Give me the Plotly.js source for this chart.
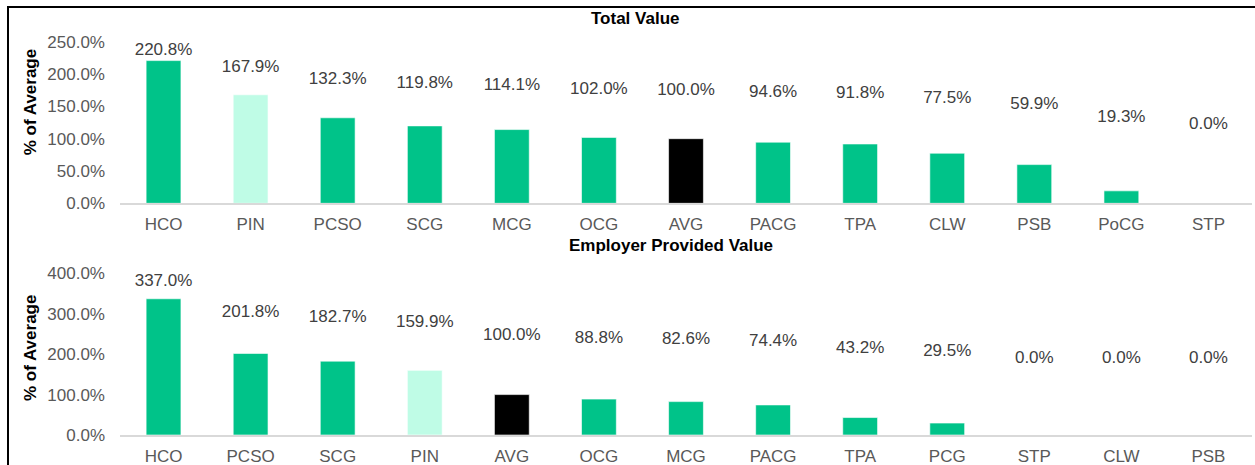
<!DOCTYPE html>
<html>
<head>
<meta charset="utf-8">
<script src="https://cdn.plot.ly/plotly-3.0.1.min.js"></script>
<style>
  html, body { margin: 0; padding: 0; background: #fff; }
  #wrap { position: relative; width: 1255px; height: 465px; }
  #chart { width: 1255px; height: 465px; }
  #frame { position: absolute; left: 7px; top: 6px; right: 0; bottom: 0;
           border-left: 2.5px solid #000; border-top: 2px solid #000; pointer-events: none; }
</style>
</head>
<body>
<div id="wrap"><div id="chart"></div><div id="frame"></div></div>
<script>
// ---- Data ----
const totalCategories = ["HCO","PIN","PCSO","SCG","MCG","OCG","AVG","PACG","TPA","CLW","PSB","PoCG","STP"];
const totalValues     = [220.8, 167.9, 132.3, 119.8, 114.1, 102.0, 100.0, 94.6, 91.8, 77.5, 59.9, 19.3, 0.0];

const employerCategories = ["HCO","PCSO","SCG","PIN","AVG","OCG","MCG","PACG","TPA","PCG","STP","CLW","PSB"];
const employerValues     = [337.0, 201.8, 182.7, 159.9, 100.0, 88.8, 82.6, 74.4, 43.2, 29.5, 0.0, 0.0, 0.0];

const titleTop = "Total Value";
const titleBottom = "Employer Provided Value";
const yTitle = "% of Average";

// ---- Styling ----
const GREEN = "#00C389", MINT = "#BFFCE6", BLACK = "#000000";
function colorFor(c) { return c === "AVG" ? BLACK : (c === "PIN" ? MINT : GREEN); }
const FONT = "Arial, 'Liberation Sans', sans-serif";
const tickFont = {family: FONT, size: 17, color: "#595959"};
const labelFont = {family: FONT, size: 17, color: "#404040"};

const fmt = v => v.toFixed(1) + "%";

const traces = [
  {type: "bar", x: totalCategories, y: totalValues, xaxis: "x", yaxis: "y",
   marker: {color: totalCategories.map(colorFor), line: {color: "rgba(255,255,255,0.6)", width: 1}},
   hoverinfo: "skip"},
  {type: "scatter", mode: "text", x: totalCategories, y: totalValues, xaxis: "x", yaxis: "y3",
   text: totalValues.map(fmt), textposition: "middle center", textfont: labelFont,
   cliponaxis: false, hoverinfo: "skip"},
  {type: "bar", x: employerCategories, y: employerValues, xaxis: "x2", yaxis: "y2",
   marker: {color: employerCategories.map(colorFor), line: {color: "rgba(255,255,255,0.6)", width: 1}},
   hoverinfo: "skip"},
  {type: "scatter", mode: "text", x: employerCategories, y: employerValues, xaxis: "x2", yaxis: "y4",
   text: employerValues.map(fmt), textposition: "middle center", textfont: labelFont,
   cliponaxis: false, hoverinfo: "skip"}
];

const xCommon = {type: "category", showgrid: false, zeroline: false, showline: true,
  linecolor: "#d9d9d9", linewidth: 1.5, ticks: "", tickfont: tickFont, ticklabelstandoff: 5,
  range: [-0.5, 12.5], autorange: false, fixedrange: true};
const yCommon = {showgrid: false, zeroline: false, showline: false, ticks: "",
  tickfont: tickFont, ticksuffix: "%", tickformat: ".1f", ticklabelstandoff: 14, fixedrange: true};

const layout = {
  width: 1255, height: 465,
  margin: {l: 120, r: 3, t: 0, b: 30},
  paper_bgcolor: "#fff", plot_bgcolor: "#fff",
  showlegend: false, bargap: 0.6,
  xaxis:  Object.assign({}, xCommon, {domain: [0, 1], anchor: "y"}),
  xaxis2: Object.assign({}, xCommon, {domain: [0, 1], anchor: "y2"}),
  yaxis:  Object.assign({}, yCommon, {domain: [0.5326, 0.9041], range: [0, 250], dtick: 50, tick0: 0}),
  yaxis2: Object.assign({}, yCommon, {domain: [0, 0.3717], range: [0, 400], dtick: 100, tick0: 0}),
  yaxis3: {overlaying: "y", range: [-234.6, 246.2], visible: false, fixedrange: true},
  yaxis4: {overlaying: "y2", range: [-335, 376], visible: false, fixedrange: true},
  annotations: [
    {text: "<b>" + titleTop + "</b>", xref: "paper", yref: "paper", x: 0.455, y: 0.9586,
     xanchor: "center", yanchor: "middle", showarrow: false,
     font: {family: FONT, size: 17, color: "#000"}},
    {text: "<b>" + titleBottom + "</b>", xref: "paper", yref: "paper", x: 0.487, y: 0.4345,
     xanchor: "center", yanchor: "middle", showarrow: false,
     font: {family: FONT, size: 17, color: "#000"}},
    {text: "<b>" + yTitle + "</b>", xref: "paper", yref: "paper", x: -0.0795, y: 0.765,
     xanchor: "center", yanchor: "middle", textangle: -90, showarrow: false,
     font: {family: FONT, size: 17, color: "#000"}},
    {text: "<b>" + yTitle + "</b>", xref: "paper", yref: "paper", x: -0.0795, y: 0.20,
     xanchor: "center", yanchor: "middle", textangle: -90, showarrow: false,
     font: {family: FONT, size: 17, color: "#000"}}
  ]
};

Plotly.newPlot("chart", traces, layout, {staticPlot: true, displayModeBar: false});
</script>
</body>
</html>
